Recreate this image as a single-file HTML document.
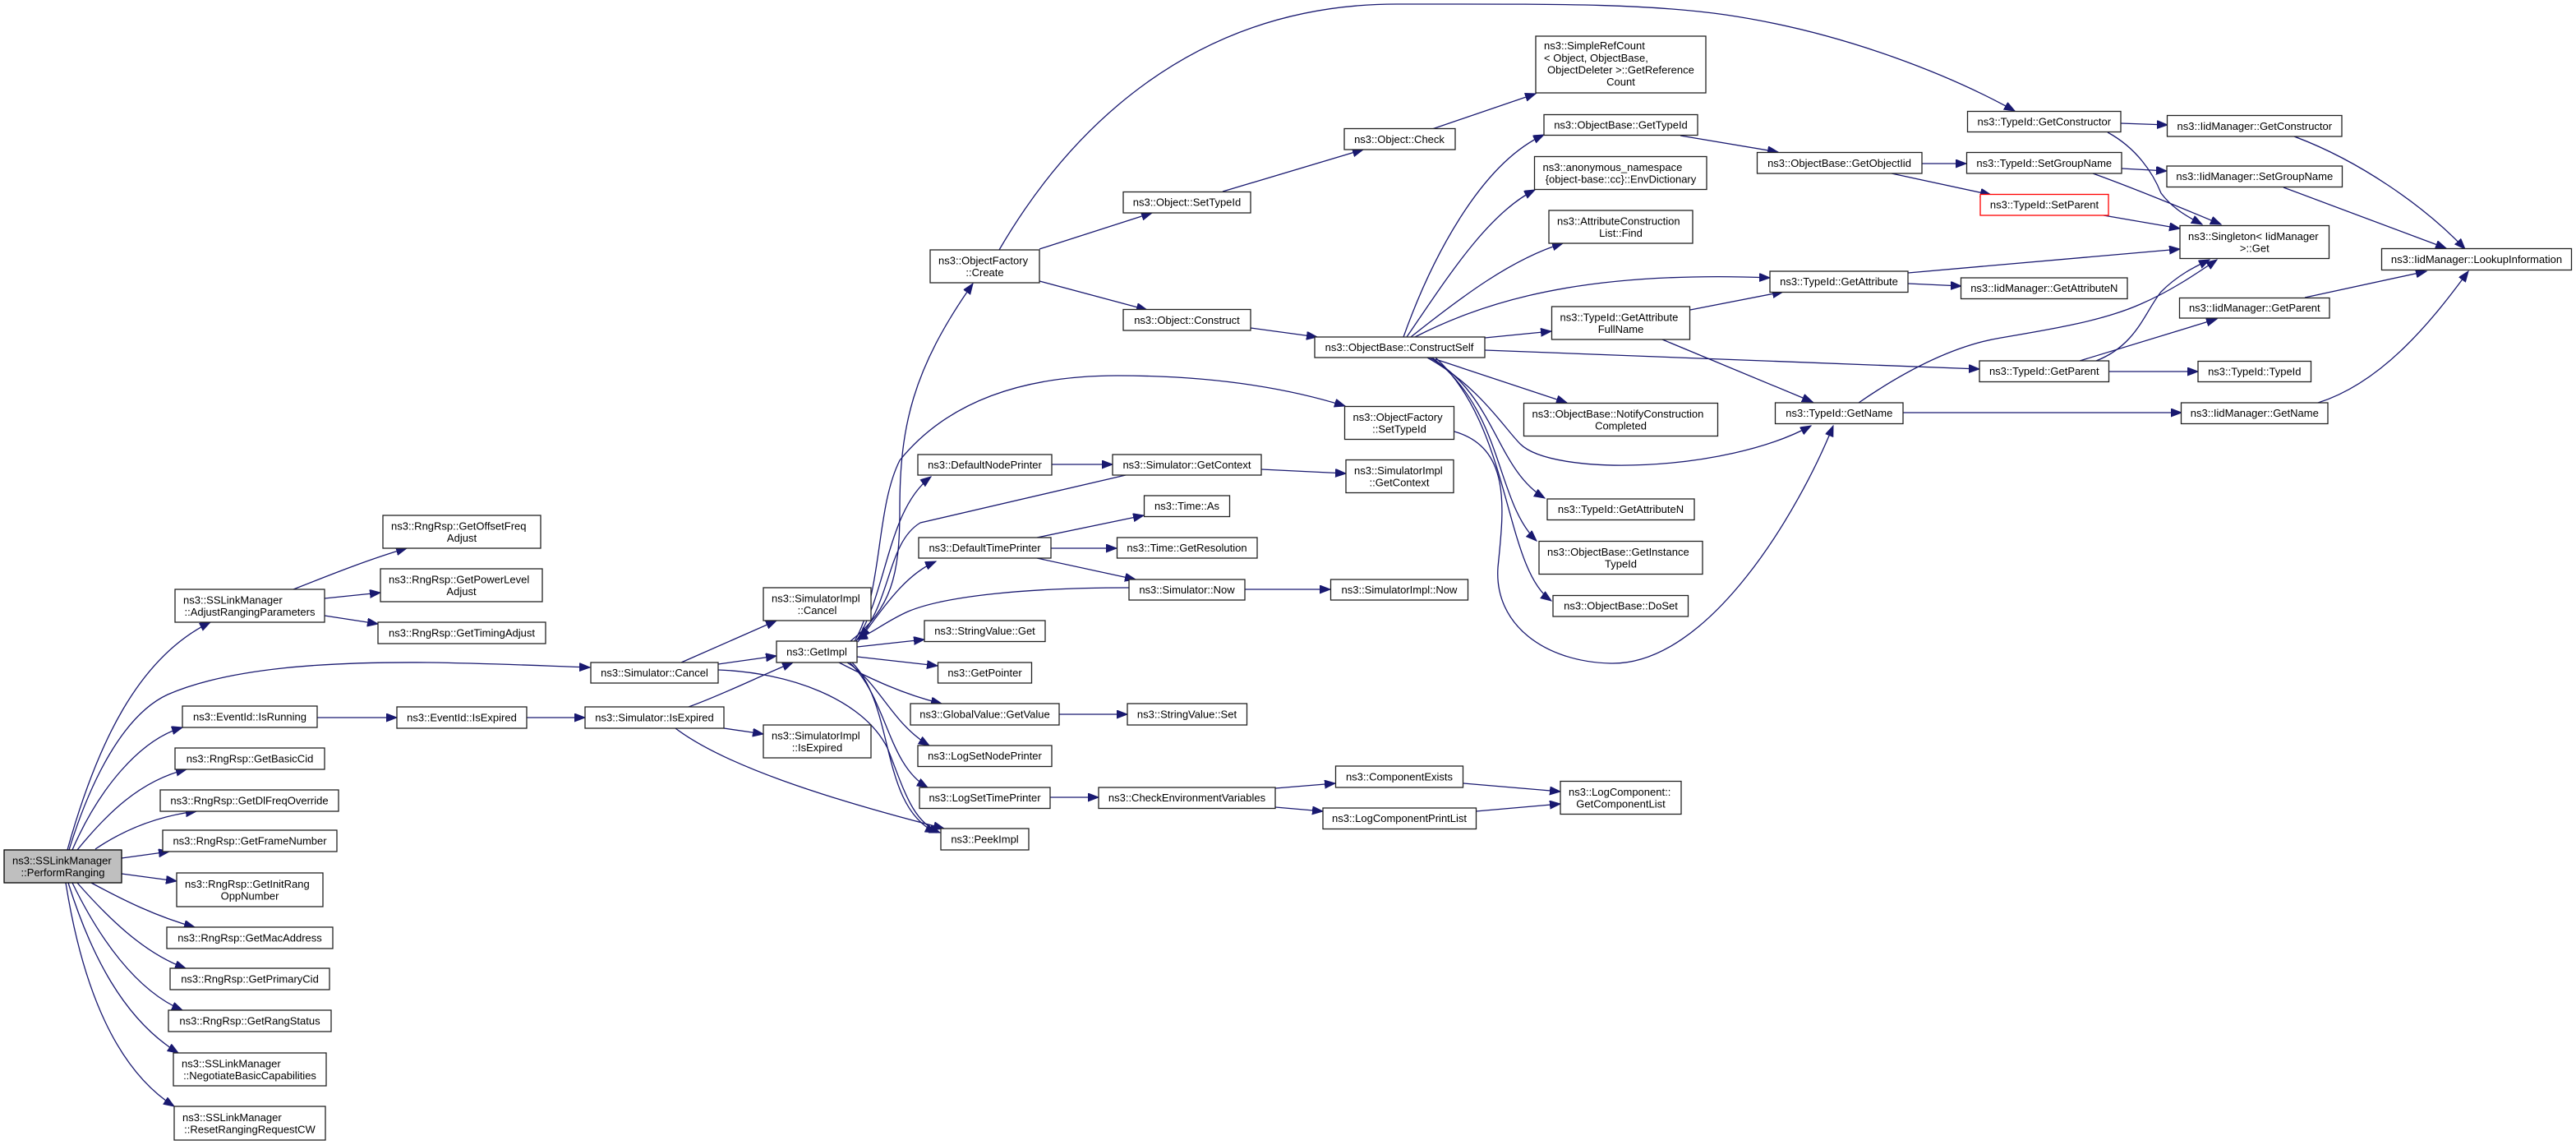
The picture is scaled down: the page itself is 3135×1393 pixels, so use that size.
<!DOCTYPE html>
<html><head><meta charset="utf-8">
<style>
html,body{margin:0;padding:0;background:#fff;}
svg{display:block;}
text{font-family:"Liberation Sans",Arial,sans-serif;font-size:13px;fill:#000;}
.m{text-anchor:middle;}
.s{text-anchor:start;}
rect{fill:#fff;stroke:#222;stroke-width:1.3;}
rect.g{fill:#bfbfbf;stroke:#000;}
rect.r{stroke:#ff0000;}
path.e{fill:none;stroke:#191970;stroke-width:1.3;marker-end:url(#a);}
</style></head>
<body>
<svg width="3135" height="1393" viewBox="0 0 3135 1393" xmlns="http://www.w3.org/2000/svg">
<defs>
<marker id="a" markerUnits="userSpaceOnUse" markerWidth="16" markerHeight="14" refX="13" refY="5" orient="auto">
<path d="M0,0 L13,5 L0,10 z" fill="#191970" stroke="#191970" stroke-width="1"/>
</marker>
</defs>
<rect x="0" y="0" width="3135" height="1393" style="fill:#fff;stroke:none"/>

<!-- ===== EDGES ===== -->
<path class="e" d="M82,1034 C118,905 168,800 256,757"/>
<path class="e" d="M84,1034 C110,950 150,870 204,845 C280,812 400,805 520,806 C600,807 660,810 718,812"/>
<path class="e" d="M88,1034 C120,960 170,900 222,885"/>
<path class="e" d="M94,1034 C130,990 170,950 227,936"/>
<path class="e" d="M116,1033 C150,1010 190,993 239,987"/>
<path class="e" d="M148,1044 L206,1036"/>
<path class="e" d="M148,1063 L215,1072"/>
<path class="e" d="M111,1074 C150,1095 190,1115 237,1128"/>
<path class="e" d="M94,1074 C130,1115 175,1160 226,1178"/>
<path class="e" d="M88,1074 C120,1140 165,1205 222,1229"/>
<path class="e" d="M83,1074 C110,1160 150,1240 217,1281"/>
<path class="e" d="M80,1074 C100,1200 140,1300 212,1346"/>

<path class="e" d="M357,717 C400,700 450,680 495,667"/>
<path class="e" d="M395,728 L463,721"/>
<path class="e" d="M395,749 L460,759"/>
<path class="e" d="M386,873 L483,873"/>
<path class="e" d="M641,873 L712,873"/>

<path class="e" d="M829,806 L945,755"/>
<path class="e" d="M874,808 L945,798"/>
<path class="e" d="M874,815 C960,818 1050,850 1080,910 C1100,960 1110,1000 1144,1013"/>
<path class="e" d="M838,860 C880,845 930,820 965,806"/>
<path class="e" d="M881,886 L929,893"/>
<path class="e" d="M822,886 C880,930 1000,970 1149,1008"/>

<path class="e" d="M1043,787 L1125,778"/>
<path class="e" d="M1043,799 L1141,810"/>
<path class="e" d="M1021,806 C1060,826 1100,845 1146,856"/>
<path class="e" d="M1031,806 C1070,830 1085,880 1131,907"/>
<path class="e" d="M1034,806 C1080,850 1080,930 1129,958"/>
<path class="e" d="M1037,806 C1090,860 1070,980 1139,1013"/>
<path class="e" d="M1035,780 C1085,740 1095,700 1095,620 C1095,520 1110,450 1184,345"/>
<path class="e" d="M1040,780 C1075,720 1065,620 1095,560 C1160,480 1260,457 1360,457 C1470,457 1560,470 1637,494"/>
<path class="e" d="M1042,780 C1080,720 1080,620 1133,580"/>
<path class="e" d="M1044,781 C1075,740 1100,700 1139,683"/>
<path class="e" d="M1370,578 L1120,636 C1080,660 1085,730 1046,776"/>
<path class="e" d="M1374,715 C1250,715 1150,725 1105,744 C1080,755 1065,768 1043,778"/>

<path class="e" d="M1280,565 L1354,565"/>
<path class="e" d="M1535,571 L1638,576"/>
<path class="e" d="M1262,654 L1392,627"/>
<path class="e" d="M1279,667 L1359,667"/>
<path class="e" d="M1262,679 L1382,705"/>
<path class="e" d="M1515,717 L1619,717"/>
<path class="e" d="M1289,869 L1372,869"/>
<path class="e" d="M1278,970 L1337,970"/>
<path class="e" d="M1552,959 L1625,953"/>
<path class="e" d="M1552,982 L1610,987"/>
<path class="e" d="M1781,953 L1899,963"/>
<path class="e" d="M1796,987 L1899,978"/>

<path class="e" d="M1265,303 L1402,259"/>
<path class="e" d="M1265,342 L1396,377"/>
<path class="e" d="M1216,304 C1300,160 1450,5 1700,5 C1900,5 2000,4 2100,18 C2250,40 2380,95 2452,135"/>
<path class="e" d="M1488,233 L1659,182"/>
<path class="e" d="M1743,157 L1869,114"/>
<path class="e" d="M1522,399 L1603,410"/>

<path class="e" d="M1708,410 C1740,320 1800,200 1879,164"/>
<path class="e" d="M1712,410 C1760,340 1810,260 1868,231"/>
<path class="e" d="M1717,410 C1780,360 1840,315 1902,296"/>
<path class="e" d="M1722,410 C1800,370 1900,340 2060,337 C2100,336 2130,337 2154,338"/>
<path class="e" d="M1807,411 L1888,403"/>
<path class="e" d="M1807,426 L2409,449"/>
<path class="e" d="M1747,437 L1907,490"/>
<path class="e" d="M1737,435 C1800,470 1830,520 1850,540 C1890,580 2100,575 2204,518"/>
<path class="e" d="M1740,435 C1820,480 1820,570 1880,606"/>
<path class="e" d="M1743,435 C1830,500 1820,610 1870,658"/>
<path class="e" d="M1747,435 C1840,520 1830,690 1888,731"/>
<path class="e" d="M1770,525 C1840,545 1830,620 1823,690 C1818,760 1880,805 1960,807 C2080,810 2190,620 2231,518"/>

<path class="e" d="M2057,377 L2170,355"/>
<path class="e" d="M2023,413 L2206,489"/>
<path class="e" d="M2045,165 L2164,185"/>
<path class="e" d="M2339,199 L2393,199"/>
<path class="e" d="M2302,211 L2423,237"/>
<path class="e" d="M2581,150 L2638,152"/>
<path class="e" d="M2565,161 C2600,180 2620,210 2630,235 C2645,255 2665,265 2680,273"/>
<path class="e" d="M2582,205 L2637,208"/>
<path class="e" d="M2547,211 C2600,230 2660,255 2703,273"/>
<path class="e" d="M2560,262 L2653,278"/>
<path class="e" d="M2322,332 L2653,303"/>
<path class="e" d="M2322,345 L2387,348"/>
<path class="e" d="M2792,166 C2870,195 2950,250 3000,303"/>
<path class="e" d="M2779,228 L2977,302"/>
<path class="e" d="M2805,362 L2953,330"/>
<path class="e" d="M2821,490 C2900,465 2960,390 3004,330"/>
<path class="e" d="M2531,439 L2698,388"/>
<path class="e" d="M2551,439 C2600,420 2610,380 2630,355 C2650,335 2670,325 2689,316"/>
<path class="e" d="M2567,452 L2675,452"/>
<path class="e" d="M2262,490 C2320,450 2380,420 2435,411 C2500,400 2560,390 2605,370 C2640,355 2670,335 2698,316"/>
<path class="e" d="M2316,502 L2655,502"/>

<!-- ===== NODES ===== -->
<rect class="g" x="5" y="1034" width="143" height="40"/>
<text class="s" x="15" y="1051.3">ns3::SSLinkManager</text>
<text class="m" x="76.5" y="1065.9">::PerformRanging</text>

<rect x="213" y="717" width="182" height="40"/>
<text class="s" x="223" y="734.3">ns3::SSLinkManager</text>
<text class="m" x="304" y="748.9">::AdjustRangingParameters</text>

<rect x="222" y="859" width="164" height="26"/>
<text class="m" x="304" y="876.5">ns3::EventId::IsRunning</text>

<rect x="213" y="910" width="182" height="26"/>
<text class="m" x="304" y="927.5">ns3::RngRsp::GetBasicCid</text>

<rect x="195" y="961" width="217" height="26"/>
<text class="m" x="303.5" y="978.5">ns3::RngRsp::GetDlFreqOverride</text>

<rect x="198" y="1010" width="212" height="26"/>
<text class="m" x="304" y="1027.5">ns3::RngRsp::GetFrameNumber</text>

<rect x="215" y="1062" width="178" height="41"/>
<text class="s" x="225" y="1079.8">ns3::RngRsp::GetInitRang</text>
<text class="m" x="304" y="1094.4">OppNumber</text>

<rect x="203" y="1128" width="202" height="26"/>
<text class="m" x="304" y="1145.5">ns3::RngRsp::GetMacAddress</text>

<rect x="207" y="1178" width="194" height="26"/>
<text class="m" x="304" y="1195.5">ns3::RngRsp::GetPrimaryCid</text>

<rect x="205" y="1229" width="198" height="26"/>
<text class="m" x="304" y="1246.5">ns3::RngRsp::GetRangStatus</text>

<rect x="211" y="1281" width="186" height="40"/>
<text class="s" x="221" y="1298.3">ns3::SSLinkManager</text>
<text class="m" x="304" y="1312.9">::NegotiateBasicCapabilities</text>

<rect x="212" y="1346" width="184" height="41"/>
<text class="s" x="222" y="1363.8">ns3::SSLinkManager</text>
<text class="m" x="304" y="1378.4">::ResetRangingRequestCW</text>

<rect x="466" y="627" width="192" height="40"/>
<text class="s" x="476" y="644.3">ns3::RngRsp::GetOffsetFreq</text>
<text class="m" x="562" y="658.9">Adjust</text>

<rect x="463" y="692" width="197" height="40"/>
<text class="s" x="473" y="709.3">ns3::RngRsp::GetPowerLevel</text>
<text class="m" x="561.5" y="723.9">Adjust</text>

<rect x="460" y="757" width="204" height="26"/>
<text class="m" x="562" y="774.5">ns3::RngRsp::GetTimingAdjust</text>

<rect x="483" y="860" width="158" height="26"/>
<text class="m" x="562" y="877.5">ns3::EventId::IsExpired</text>

<rect x="719" y="806" width="155" height="25"/>
<text class="m" x="796.5" y="823">ns3::Simulator::Cancel</text>

<rect x="712" y="860" width="169" height="26"/>
<text class="m" x="796.5" y="877.5">ns3::Simulator::IsExpired</text>

<rect x="929" y="715" width="131" height="40"/>
<text class="s" x="939" y="732.3">ns3::SimulatorImpl</text>
<text class="m" x="994.5" y="746.9">::Cancel</text>

<rect x="945" y="780" width="98" height="26"/>
<text class="m" x="994" y="797.5">ns3::GetImpl</text>

<rect x="929" y="882" width="131" height="40"/>
<text class="s" x="939" y="899.3">ns3::SimulatorImpl</text>
<text class="m" x="994.5" y="913.9">::IsExpired</text>

<rect x="1132" y="304" width="133" height="40"/>
<text class="s" x="1142" y="321.3">ns3::ObjectFactory</text>
<text class="m" x="1198.5" y="335.9">::Create</text>

<rect x="1117" y="553" width="163" height="25"/>
<text class="m" x="1198.5" y="570">ns3::DefaultNodePrinter</text>

<rect x="1118" y="654" width="161" height="25"/>
<text class="m" x="1198.5" y="671">ns3::DefaultTimePrinter</text>

<rect x="1125" y="755" width="147" height="25.5"/>
<text class="m" x="1198.5" y="772.2">ns3::StringValue::Get</text>

<rect x="1141.5" y="806" width="114" height="25"/>
<text class="m" x="1198.5" y="823">ns3::GetPointer</text>

<rect x="1108" y="856" width="181" height="26"/>
<text class="m" x="1198.5" y="873.5">ns3::GlobalValue::GetValue</text>

<rect x="1117" y="907" width="163" height="25.5"/>
<text class="m" x="1198.5" y="924.2">ns3::LogSetNodePrinter</text>

<rect x="1119" y="958" width="159" height="25.5"/>
<text class="m" x="1198.5" y="975.2">ns3::LogSetTimePrinter</text>

<rect x="1145" y="1008" width="107" height="26"/>
<text class="m" x="1198.5" y="1025.5">ns3::PeekImpl</text>

<rect x="1367" y="233.5" width="155" height="25.5"/>
<text class="m" x="1444.5" y="250.7">ns3::Object::SetTypeId</text>

<rect x="1367" y="376.5" width="155" height="25.5"/>
<text class="m" x="1444.5" y="393.8">ns3::Object::Construct</text>

<rect x="1636" y="156.5" width="135" height="25.5"/>
<text class="m" x="1703" y="173.8">ns3::Object::Check</text>

<rect x="1600" y="410" width="207" height="25"/>
<text class="m" x="1703" y="427">ns3::ObjectBase::ConstructSelf</text>

<rect x="1636.5" y="494.5" width="133" height="40"/>
<text class="s" x="1646.5" y="511.8">ns3::ObjectFactory</text>
<text class="m" x="1703" y="526.4">::SetTypeId</text>

<rect x="1354" y="553" width="181" height="25"/>
<text class="m" x="1444.5" y="570">ns3::Simulator::GetContext</text>

<rect x="1638" y="559.5" width="131" height="40"/>
<text class="s" x="1648" y="576.8">ns3::SimulatorImpl</text>
<text class="m" x="1703" y="591.4">::GetContext</text>

<rect x="1392.5" y="603" width="104" height="25.5"/>
<text class="m" x="1444.5" y="620.2">ns3::Time::As</text>

<rect x="1359.5" y="654" width="170.5" height="25"/>
<text class="m" x="1444.5" y="671">ns3::Time::GetResolution</text>

<rect x="1374" y="705" width="141" height="25"/>
<text class="m" x="1444.5" y="722">ns3::Simulator::Now</text>

<rect x="1619.5" y="705" width="167" height="25"/>
<text class="m" x="1703" y="722">ns3::SimulatorImpl::Now</text>

<rect x="1372" y="856" width="145.5" height="26"/>
<text class="m" x="1444.5" y="873.5">ns3::StringValue::Set</text>

<rect x="1337" y="958" width="215" height="25.5"/>
<text class="m" x="1444.5" y="975.2">ns3::CheckEnvironmentVariables</text>

<rect x="1625.5" y="932" width="155" height="26"/>
<text class="m" x="1703" y="949.5">ns3::ComponentExists</text>

<rect x="1610" y="983" width="186.5" height="25.5"/>
<text class="m" x="1703" y="1000.2">ns3::LogComponentPrintList</text>

<rect x="1899" y="950.5" width="147" height="40"/>
<text class="s" x="1909" y="967.8">ns3::LogComponent::</text>
<text class="m" x="1972.5" y="982.4">GetComponentList</text>

<rect x="1869" y="44" width="207" height="69"/>
<text class="s" x="1879" y="60.2">ns3::SimpleRefCount</text>
<text class="s" x="1879" y="74.8">&lt; Object, ObjectBase,</text>
<text class="s" x="1883" y="89.4">ObjectDeleter &gt;::GetReference</text>
<text class="m" x="1972.5" y="104">Count</text>

<rect x="1879" y="139.5" width="187" height="25"/>
<text class="m" x="1972.5" y="156.5">ns3::ObjectBase::GetTypeId</text>

<rect x="1867.5" y="190.5" width="209.5" height="40"/>
<text class="s" x="1877.5" y="207.8">ns3::anonymous_namespace</text>
<text class="m" x="1972.5" y="222.4">{object-base::cc}::EnvDictionary</text>

<rect x="1885" y="256" width="175" height="40"/>
<text class="s" x="1895" y="273.3">ns3::AttributeConstruction</text>
<text class="m" x="1972.5" y="287.9">List::Find</text>

<rect x="1888.5" y="373" width="168" height="40"/>
<text class="s" x="1898.5" y="390.3">ns3::TypeId::GetAttribute</text>
<text class="m" x="1972.5" y="404.9">FullName</text>

<rect x="1854.5" y="490.5" width="236" height="40"/>
<text class="s" x="1864.5" y="507.8">ns3::ObjectBase::NotifyConstruction</text>
<text class="m" x="1972.5" y="522.4">Completed</text>

<rect x="1883" y="607" width="179" height="25.5"/>
<text class="m" x="1972.5" y="624.2">ns3::TypeId::GetAttributeN</text>

<rect x="1873" y="658.5" width="199" height="40"/>
<text class="s" x="1883" y="675.8">ns3::ObjectBase::GetInstance</text>
<text class="m" x="1972.5" y="690.4">TypeId</text>

<rect x="1890" y="724.5" width="164.5" height="25.5"/>
<text class="m" x="1972.5" y="741.7">ns3::ObjectBase::DoSet</text>

<rect x="2138.5" y="185.5" width="200.5" height="25.5"/>
<text class="m" x="2238.5" y="202.8">ns3::ObjectBase::GetObjectIid</text>

<rect x="2154" y="330" width="168" height="25.5"/>
<text class="m" x="2238" y="347.2">ns3::TypeId::GetAttribute</text>

<rect x="2160.5" y="490" width="155.5" height="25.5"/>
<text class="m" x="2238.3" y="507.2">ns3::TypeId::GetName</text>

<rect x="2394.5" y="135.5" width="186.5" height="25"/>
<text class="m" x="2487.8" y="152.5">ns3::TypeId::GetConstructor</text>

<rect x="2393.5" y="185.5" width="188.5" height="25.5"/>
<text class="m" x="2487.8" y="202.8">ns3::TypeId::SetGroupName</text>

<rect class="r" x="2410" y="236.5" width="156" height="25.5"/>
<text class="m" x="2488" y="253.7">ns3::TypeId::SetParent</text>

<rect x="2386.5" y="338" width="202.5" height="25.5"/>
<text class="m" x="2487.8" y="355.2">ns3::IidManager::GetAttributeN</text>

<rect x="2409" y="439" width="157.5" height="25.5"/>
<text class="m" x="2487.8" y="456.2">ns3::TypeId::GetParent</text>

<rect x="2637.5" y="140.5" width="212.5" height="25.5"/>
<text class="m" x="2743.8" y="157.8">ns3::IidManager::GetConstructor</text>

<rect x="2637" y="202" width="213.5" height="25.5"/>
<text class="m" x="2743.8" y="219.2">ns3::IidManager::SetGroupName</text>

<rect x="2653" y="274.5" width="181.5" height="40"/>
<text class="s" x="2663" y="291.8">ns3::Singleton&lt; IidManager</text>
<text class="m" x="2743.8" y="306.4">&gt;::Get</text>

<rect x="2898.5" y="302.5" width="231" height="26"/>
<text class="m" x="3014" y="320">ns3::IidManager::LookupInformation</text>

<rect x="2652.5" y="362.5" width="182.5" height="24.5"/>
<text class="m" x="2743.8" y="379.2">ns3::IidManager::GetParent</text>

<rect x="2675" y="439.5" width="137.5" height="25"/>
<text class="m" x="2743.8" y="456.5">ns3::TypeId::TypeId</text>

<rect x="2654.5" y="490" width="178.5" height="25.5"/>
<text class="m" x="2743.8" y="507.2">ns3::IidManager::GetName</text>
</svg>
</body></html>
